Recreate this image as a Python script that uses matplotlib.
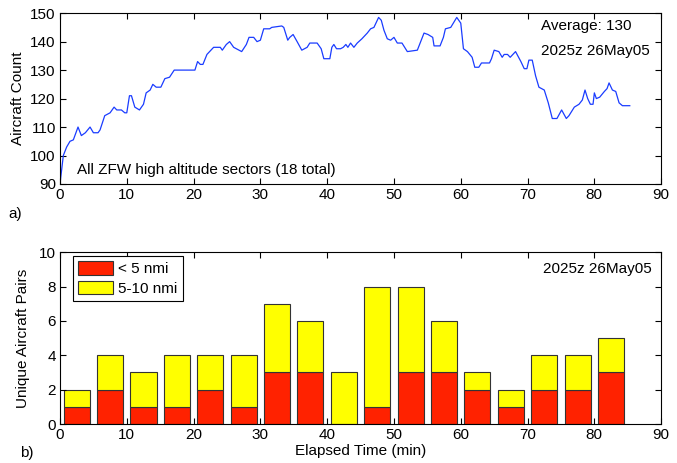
import matplotlib
matplotlib.use('Agg')
import matplotlib.pyplot as plt
from matplotlib.patches import Patch
import numpy as np

plt.rcParams['font.family'] = ['Liberation Sans', 'DejaVu Sans']
plt.rcParams['font.size'] = 11

# aircraft count in ZFW high altitude sectors vs elapsed time
t_min = [0, 0.5, 1.0, 1.5, 2.0, 2.7, 3.2, 3.8, 4.5, 5.0,
         5.7, 6.0, 6.7, 7.5, 8.1, 8.5, 9.2, 9.7, 10.0, 10.4,
         10.7, 11.2, 11.9, 12.5, 12.9, 13.5, 13.9, 14.4, 15.1, 15.7,
         16.4, 17.1, 20.2, 20.6, 21.0, 21.4, 22.0, 23.0, 24.0, 24.3,
         24.9, 25.4, 26.0, 26.8, 27.2, 27.9, 28.3, 29.0, 29.5, 30.0,
         30.5, 31.4, 31.7, 33.2, 33.5, 34.1, 34.4, 34.9, 35.5, 36.2,
         37.0, 37.4, 38.5, 39.1, 39.5, 40.4, 40.7, 41.0, 41.4, 42.0,
         42.4, 42.8, 43.1, 43.5, 44.0, 44.5, 45.2, 46.0, 46.5, 47.0,
         47.7, 48.1, 48.5, 49.0, 49.5, 50.0, 50.5, 51.2, 52.0, 53.5,
         54.0, 54.5, 55.1, 55.8, 56.0, 56.9, 57.4, 57.7, 58.5, 59.4,
         60.0, 60.4, 61.0, 61.7, 62.1, 62.7, 63.1, 64.3, 64.6, 65.0,
         65.7, 66.2, 66.5, 67.0, 67.4, 67.8, 68.2, 69.0, 69.5, 69.9,
         70.2, 70.7, 71.2, 71.7, 72.5, 73.1, 73.7, 74.4, 75.1, 75.8,
         76.2, 77.0, 77.7, 78.2, 78.6, 79.0, 79.4, 79.8, 80.0, 80.3,
         80.8, 81.5, 81.9, 82.2, 82.7, 83.2, 83.7, 84.2, 85.3]
count = [90, 100, 103, 105, 105.5, 110, 107, 108, 110, 108,
         108, 109, 114, 115, 117, 116, 116, 115, 115, 121,
         121, 117, 116, 118, 122, 123, 125, 124, 124, 127,
         127.5, 130, 130, 133, 132, 132, 135.5, 138, 138, 137,
         139, 140, 138, 137, 136.5, 139, 141.5, 141.5, 140, 140.5,
         144.5, 144.5, 145, 145.5, 145, 140.5, 141.5, 142.5, 140, 137,
         138, 139.5, 139.5, 137.5, 134, 134, 138, 139, 137.5, 137.5,
         138, 139, 138, 139.5, 138, 139.5, 141, 143, 144.5, 145,
         148.5, 147.5, 144, 141, 140.5, 141.5, 139.5, 139.5, 136.5, 137,
         140, 143, 142.5, 141.5, 138.5, 138.5, 141.5, 144.5, 145, 148.5,
         146.5, 137.5, 136.5, 134.5, 131, 131, 132.5, 132.5, 134, 137,
         136.5, 134.5, 135.5, 135.5, 134.5, 135.5, 136.5, 133, 130.5, 130.5,
         133.5, 133.5, 128, 124, 123, 118.5, 113, 113, 116, 113,
         114, 117, 118, 119.5, 123, 120, 118, 118, 122, 120,
         120.5, 122.5, 123.5, 125.5, 123, 122.5, 118.5, 117.5, 117.5]

# unique aircraft pairs per 5-minute bin
bin_center = [2.5, 7.5, 12.5, 17.5, 22.5, 27.5, 32.5, 37.5, 42.5,
              47.5, 52.5, 57.5, 62.5, 67.5, 72.5, 77.5, 82.5]
pairs_lt5 = [1, 2, 1, 1, 2, 1, 3, 3, 0, 1, 3, 3, 2, 1, 2, 2, 3]
pairs_5to10 = [1, 2, 2, 3, 2, 3, 4, 3, 3, 7, 5, 3, 1, 1, 2, 2, 2]

fig = plt.figure(figsize=(6.77, 4.63), dpi=100)
ax1 = fig.add_axes([0.0886, 0.6026, 0.888, 0.369])
ax2 = fig.add_axes([0.0886, 0.0842, 0.888, 0.371])

for ax in (ax1, ax2):
    ax.tick_params(direction='in', top=True, right=True, length=4, width=0.8, pad=3)
    for s in ax.spines.values():
        s.set_linewidth(0.8)

# top panel: aircraft count
ax1.plot(t_min, count, color='#1a3cff', lw=0.9)
ax1.set_xlim(0, 90)
ax1.set_ylim(90, 150)
ax1.set_xticks(np.arange(0, 91, 10))
ax1.set_yticks(np.arange(90, 151, 10))
ax1.set_ylabel('Aircraft Count', labelpad=4)
ax1.text(0.8, 0.9, 'Average: 130', transform=ax1.transAxes)
ax1.text(0.8, 0.755, '2025z 26May05', transform=ax1.transAxes)
ax1.text(0.028, 0.06, 'All ZFW high altitude sectors (18 total)', transform=ax1.transAxes)
fig.text(0.012, 0.53, 'a)')

# bottom panel: stacked bars
red = '#ff2200'
yellow = '#ffff00'
ax2.bar(bin_center, pairs_lt5, width=3.9, color=red, edgecolor='#333333', lw=0.8)
ax2.bar(bin_center, pairs_5to10, width=3.9, bottom=pairs_lt5, color=yellow,
        edgecolor='#333333', lw=0.8)
ax2.set_xlim(0, 90)
ax2.set_ylim(0, 10)
ax2.set_xticks(np.arange(0, 91, 10))
ax2.set_yticks(np.arange(0, 11, 2))
ax2.set_ylabel('Unique Aircraft Pairs', labelpad=6)
ax2.set_xlabel('Elapsed Time (min)', labelpad=1)
ax2.text(0.985, 0.88, '2025z 26May05', transform=ax2.transAxes, ha='right')
handles = [Patch(facecolor=red, edgecolor='#333333', lw=0.8, label='< 5 nmi'),
           Patch(facecolor=yellow, edgecolor='#333333', lw=0.8, label='5-10 nmi')]
leg = ax2.legend(handles=handles, loc='upper left', bbox_to_anchor=(0.021, 0.98),
                 fancybox=False, edgecolor='black', framealpha=1,
                 handlelength=2.3, handleheight=1.0, handletextpad=0.35,
                 borderpad=0.35, labelspacing=0.3, borderaxespad=0)
leg.get_frame().set_linewidth(0.8)
fig.text(0.03, 0.012, 'b)')

fig.savefig('out.png', dpi=100)
